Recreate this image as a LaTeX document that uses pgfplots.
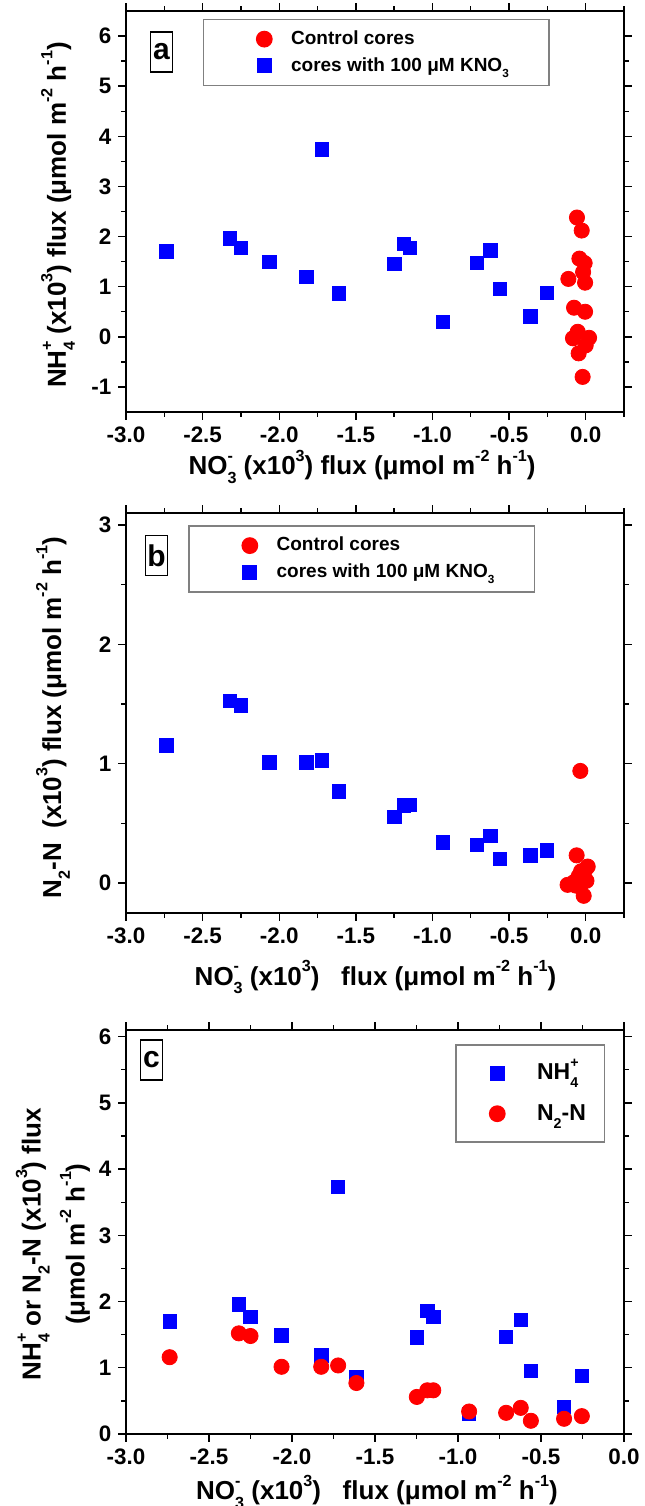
\documentclass[border=0pt]{standalone}
\usepackage{pgfplots}
\pgfplotsset{compat=1.18}
\usepackage{fontspec}
\setmainfont{Liberation Sans}
\definecolor{myred}{RGB}{255,0,0}
\definecolor{myblue}{RGB}{0,0,255}
\newcommand{\sps}[1]{\raisebox{0.52em}{\scalebox{0.62}{#1}}}
\newcommand{\sbs}[1]{\raisebox{-0.34em}{\scalebox{0.62}{#1}}}
\newcommand{\NOthree}{NO\rlap{\sps{-}}\sbs{3}}
\newcommand{\NHfour}{NH\rlap{\sps{+}}\sbs{4}}
\newcommand{\Ntwo}{N\sbs{2}-N}
\newcommand{\unitstr}{(μmol m\sps{-2} h\sps{-1})}
\newcommand{\xten}{(x10\sps{3})}
\tikzset{panlab/.style={draw, line width=0.6pt, inner sep=0pt, minimum width=10.8pt, minimum height=20pt, font=\fontsize{15}{17}\selectfont\bfseries}}
\pgfplotsset{
  myaxis/.style={
    scale only axis, width=249pt,
    xmin=-3,
    axis line style={line width=0.7pt},
    every tick/.style={black, line width=0.7pt},
    tick align=outside, major tick length=3.8pt, minor tick length=2.4pt,
    xtick={-3,-2.5,-2,-1.5,-1,-0.5,0},
    xticklabels={-3.0,-2.5,-2.0,-1.5,-1.0,-0.5,0.0},
    minor xtick={-2.75,-2.25,-1.75,-1.25,-0.75,-0.25,0.25},
    ticklabel style={font=\fontsize{11.2}{13}\selectfont\bfseries},
    label style={font=\fontsize{13}{15}\selectfont\bfseries},
    clip=false, anchor=north west,
  },
  legAB/.style={legend image code/.code={\path (-30pt,-6.25pt) (11pt,6.25pt); \draw[##1] plot coordinates {(0pt,0pt)};}},
  legC/.style={legend image code/.code={\path (-20.35pt,-9.75pt) (17.5pt,9.75pt); \draw[##1] plot coordinates {(0pt,0pt)};}},
  redc/.style={only marks, mark=*, mark size=3.8pt, color=myred, mark options={draw=none, fill=myred}},
  blues/.style={only marks, mark=square*, mark size=3.35pt, color=myblue, mark options={draw=none, fill=myblue}},
}
\begin{document}
\begin{tikzpicture}
\path[use as bounding box] (0,0) rectangle (322pt,-753pt);
% ---------- panel a ----------
\begin{axis}[myaxis, at={(63pt,-5.5pt)}, height=200.5pt,
  xmax=0.25, ymin=-1.5, ymax=6.5,
  ytick={-1,0,1,2,3,4,5,6},
  yticklabels={-1,0,1,2,3,4,5,6},
  minor ytick={-0.5,0.5,1.5,2.5,3.5,4.5,5.5},
  xlabel={\NOthree\ \xten\ flux \unitstr},
  xlabel style={at={(axis description cs:0.474,-0.157)}, anchor=base},
  ylabel={\NHfour\ \xten\ flux \unitstr},
  ylabel style={at={(axis description cs:-0.1205,0.491)}, anchor=base},
  legend style={at={(axis description cs:0.154,0.981)}, anchor=north west,
    draw=gray, line width=0.8pt, inner xsep=0pt, inner ysep=3.2pt,
    /tikz/column sep=0pt, /tikz/row sep=0pt,
    font=\fontsize{9.5}{11}\selectfont\bfseries,
    cells={anchor=west, inner sep=0pt, text height=6.8pt, text depth=0pt}},
]
\addplot[redc, legAB] coordinates {
(-0.057,2.38) (-0.026,2.12) (-0.041,1.56) (-0.007,1.47) (-0.017,1.29)
(-0.113,1.155) (-0.004,1.08) (-0.076,0.58) (-0.004,0.50) (-0.052,0.10)
(-0.083,-0.03) (0.022,-0.02) (0.0,-0.17) (-0.046,-0.33) (-0.02,-0.80)};
\addlegendentry{\makebox[127pt][l]{Control cores}}
\addplot[blues, legAB] coordinates {
(-2.737,1.70) (-2.32,1.96) (-2.25,1.77) (-2.063,1.49) (-1.824,1.19)
(-1.722,3.735) (-1.612,0.865) (-1.248,1.46) (-1.185,1.855) (-1.149,1.77)
(-0.933,0.30) (-0.71,1.47) (-0.622,1.72) (-0.561,0.957) (-0.361,0.41) (-0.254,0.873)};
\addlegendentry{\makebox[127pt][l]{cores with 100 μM KNO\sbs{3}}}
\node[panlab] at (axis description cs:0.0713,0.898) {a};
\end{axis}
% ---------- panel b ----------
\begin{axis}[myaxis, at={(63pt,-256.5pt)}, height=200pt,
  xmax=0.25, ymin=-0.25, ymax=3.1,
  ytick={0,1,2,3},
  yticklabels={0,1,2,3},
  minor ytick={0.5,1.5,2.5},
  xlabel={\NOthree\ \xten\ \ \ flux \unitstr},
  xlabel style={at={(axis description cs:0.501,-0.18)}, anchor=base},
  ylabel={\Ntwo\ \ \xten\ flux \unitstr},
  ylabel style={at={(axis description cs:-0.1305,0.489)}, anchor=base},
  legend style={at={(axis description cs:0.125,0.96975)}, anchor=north west,
    draw=gray, line width=0.8pt, inner xsep=0pt, inner ysep=3.2pt,
    /tikz/column sep=0pt, /tikz/row sep=0pt,
    font=\fontsize{9.5}{11}\selectfont\bfseries,
    cells={anchor=west, inner sep=0pt, text height=6.8pt, text depth=0pt}},
]
\addplot[redc, legAB] coordinates {
(-0.035,0.94) (-0.059,0.233) (0.013,0.139) (-0.03,0.10) (-0.009,0.04)
(-0.052,0.033) (-0.118,-0.014) (-0.013,-0.106) (-0.075,0.01) (-0.02,0.07)
(0.005,0.02) (-0.045,0.06) (-0.025,0.0) (-0.004,0.11) (-0.065,-0.02)};
\addlegendentry{\makebox[127pt][l]{Control cores}}
\addplot[blues, legAB] coordinates {
(-2.737,1.153) (-2.32,1.527) (-2.25,1.488) (-2.063,1.013) (-1.824,1.013)
(-1.722,1.027) (-1.612,0.767) (-1.248,0.555) (-1.185,0.65) (-1.149,0.655)
(-0.933,0.343) (-0.71,0.32) (-0.622,0.394) (-0.561,0.204) (-0.361,0.232) (-0.254,0.274)};
\addlegendentry{\makebox[127pt][l]{cores with 100 μM KNO\sbs{3}}}
\node[panlab] at (axis description cs:0.0612,0.894) {b};
\end{axis}
% ---------- panel c ----------
\begin{axis}[myaxis, at={(63pt,-515pt)}, height=202pt,
  xmax=0, ymin=0, ymax=6.1,
  minor xtick={-2.75,-2.25,-1.75,-1.25,-0.75,-0.25},
  ytick={0,1,2,3,4,5,6},
  yticklabels={0,1,2,3,4,5,6},
  minor ytick={0.5,1.5,2.5,3.5,4.5,5.5},
  xlabel={\NOthree\ \xten\ \ \ flux \unitstr},
  xlabel style={at={(axis description cs:0.504,-0.163)}, anchor=base},
  ylabel={\NHfour\ or \Ntwo\ \xten\ flux\\\unitstr},
  ylabel style={at={(axis description cs:-0.1466,0.47)}, anchor=center, align=center, font=\fontsize{13}{22}\selectfont\bfseries},
  legend style={at={(axis description cs:0.6606,0.9646)}, anchor=north west,
    draw=gray, line width=0.8pt, inner xsep=0pt, inner ysep=3.85pt,
    /tikz/column sep=0pt, /tikz/row sep=0pt,
    font=\fontsize{11.5}{13}\selectfont\bfseries,
    cells={anchor=west, inner sep=0pt, text height=8.2pt, text depth=0pt}},
]
\addplot[blues, legC] coordinates {
(-2.737,1.70) (-2.32,1.96) (-2.25,1.77) (-2.063,1.49) (-1.824,1.19)
(-1.722,3.735) (-1.612,0.865) (-1.248,1.46) (-1.185,1.855) (-1.149,1.77)
(-0.933,0.30) (-0.71,1.47) (-0.622,1.72) (-0.561,0.957) (-0.361,0.41) (-0.254,0.873)};
\addlegendentry{\makebox[31.65pt][l]{\NHfour}}
\addplot[redc, legC] coordinates {
(-2.737,1.16) (-2.32,1.52) (-2.25,1.48) (-2.063,1.015) (-1.824,1.015)
(-1.722,1.035) (-1.612,0.77) (-1.248,0.56) (-1.185,0.66) (-1.149,0.66)
(-0.933,0.34) (-0.71,0.32) (-0.622,0.395) (-0.561,0.20) (-0.361,0.23) (-0.254,0.27)};
\addlegendentry{\makebox[31.65pt][l]{\Ntwo}}
\node[panlab] at (axis description cs:0.051,0.926) {c};
\end{axis}
\end{tikzpicture}
\end{document}
